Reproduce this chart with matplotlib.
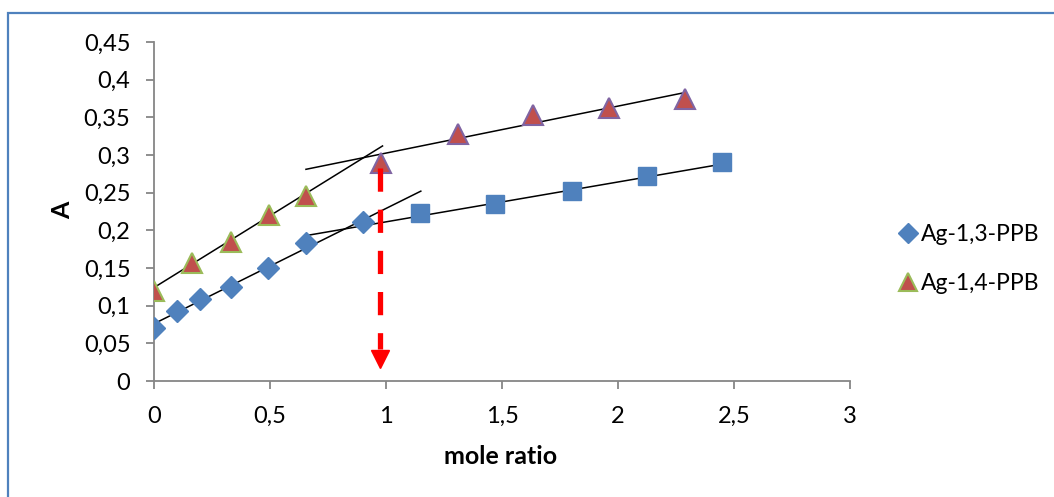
import matplotlib
matplotlib.use("Agg")
import matplotlib.pyplot as plt
from matplotlib.patches import Rectangle

plt.rcParams["font.family"] = ["Lato", "DejaVu Sans"]

# Ag-1,3-PPB: diamonds up to the break, squares after it
ppb13_x = [0.0, 0.10, 0.20, 0.33, 0.49, 0.655, 0.90]
ppb13_y = [0.071, 0.093, 0.109, 0.125, 0.150, 0.183, 0.211]
ppb13_sq_x = [1.145, 1.47, 1.80, 2.125, 2.45]
ppb13_sq_y = [0.223, 0.235, 0.252, 0.272, 0.291]

# Ag-1,4-PPB: green-edged triangles, then purple-edged triangles
ppb14_x = [0.0, 0.165, 0.33, 0.495, 0.655]
ppb14_y = [0.119, 0.157, 0.185, 0.220, 0.245]
ppb14_late_x = [0.98, 1.31, 1.635, 1.96, 2.29]
ppb14_late_y = [0.290, 0.328, 0.353, 0.362, 0.374]

# hand-drawn fit lines (x0, x1), (y0, y1)
fit_lines = [
    ([0.0, 0.985], [0.124, 0.312]),
    ([0.655, 2.29], [0.281, 0.383]),
    ([0.0, 1.15], [0.076, 0.252]),
    ([0.655, 2.45], [0.193, 0.288]),
]

# equivalence point marker
eq_x = 0.972
eq_top, eq_bottom = 0.283, 0.013

BLUE = "#4F81BD"
RED = "#C0504D"
GREEN = "#9BBB59"
PURPLE = "#8064A2"
GREY = "#868686"

fig = plt.figure(figsize=(10.54, 4.97), dpi=100)
ax = fig.add_axes([0.1461, 0.2334, 0.6604, 0.6821])

for xs, ys in fit_lines:
    ax.plot(xs, ys, color="black", lw=1.1, zorder=3)

ax.plot(ppb13_x, ppb13_y, ls="none", marker="D", ms=11, color=BLUE,
        mec=BLUE, label="Ag-1,3-PPB", zorder=4)
ax.plot(ppb13_sq_x, ppb13_sq_y, ls="none", marker="s", ms=13, color=BLUE,
        mec=BLUE, zorder=4)
ax.plot(ppb14_x, ppb14_y, ls="none", marker="^", ms=14, color=RED,
        mec=GREEN, mew=1.5, label="Ag-1,4-PPB", zorder=4)
ax.plot(ppb14_late_x, ppb14_late_y, ls="none", marker="^", ms=14, color=RED,
        mec=PURPLE, mew=1.5, zorder=4)

# red dashed arrow down to the x axis
ax.plot([eq_x, eq_x], [eq_top, eq_bottom + 0.03], color="red", lw=3.8,
        dashes=(4.4, 3.4), solid_capstyle="butt", dash_capstyle="butt", zorder=5)
ax.plot([eq_x], [eq_bottom + 0.016], marker="v", ms=13, color="red",
        mec="red", ls="none", zorder=5)

ax.set_xlim(0, 3)
ax.set_ylim(0, 0.45)
ax.set_xticks([0, 0.5, 1, 1.5, 2, 2.5, 3])
ax.set_xticklabels(["0", "0,5", "1", "1,5", "2", "2,5", "3"])
ax.set_yticks([0, 0.05, 0.1, 0.15, 0.2, 0.25, 0.3, 0.35, 0.4, 0.45])
ax.set_yticklabels(["0", "0,05", "0,1", "0,15", "0,2", "0,25", "0,3",
                    "0,35", "0,4", "0,45"])
for s in ("top", "right"):
    ax.spines[s].set_visible(False)
for s in ("left", "bottom"):
    ax.spines[s].set_color(GREY)
    ax.spines[s].set_linewidth(1.3)
ax.tick_params(colors=GREY, labelcolor="black", length=6, width=1.3,
               labelsize=17)
ax.tick_params(axis="y", pad=11)
ax.tick_params(axis="x", pad=12)
ax.set_xlabel("mole ratio", fontsize=18, fontweight="bold")
ax.set_ylabel("A", fontsize=18, fontweight="bold")
ax.xaxis.set_label_coords(0.4986, -0.19)
ax.yaxis.set_label_coords(-0.115, 0.504)

ax.legend(loc="center left", bbox_to_anchor=(1.054, 0.36), frameon=False,
          fontsize=16.5, handletextpad=0.12, labelspacing=1.2, borderaxespad=0,
          handlelength=0.95, markerscale=0.9)

# chart border (cut off at the right and bottom in the original)
fig.patches.append(Rectangle((0.008, -0.2), 1.5, 1.174, transform=fig.transFigure,
                             fill=False, ec=BLUE, lw=1.6, clip_on=False))

fig.savefig("out.png", dpi=100)
